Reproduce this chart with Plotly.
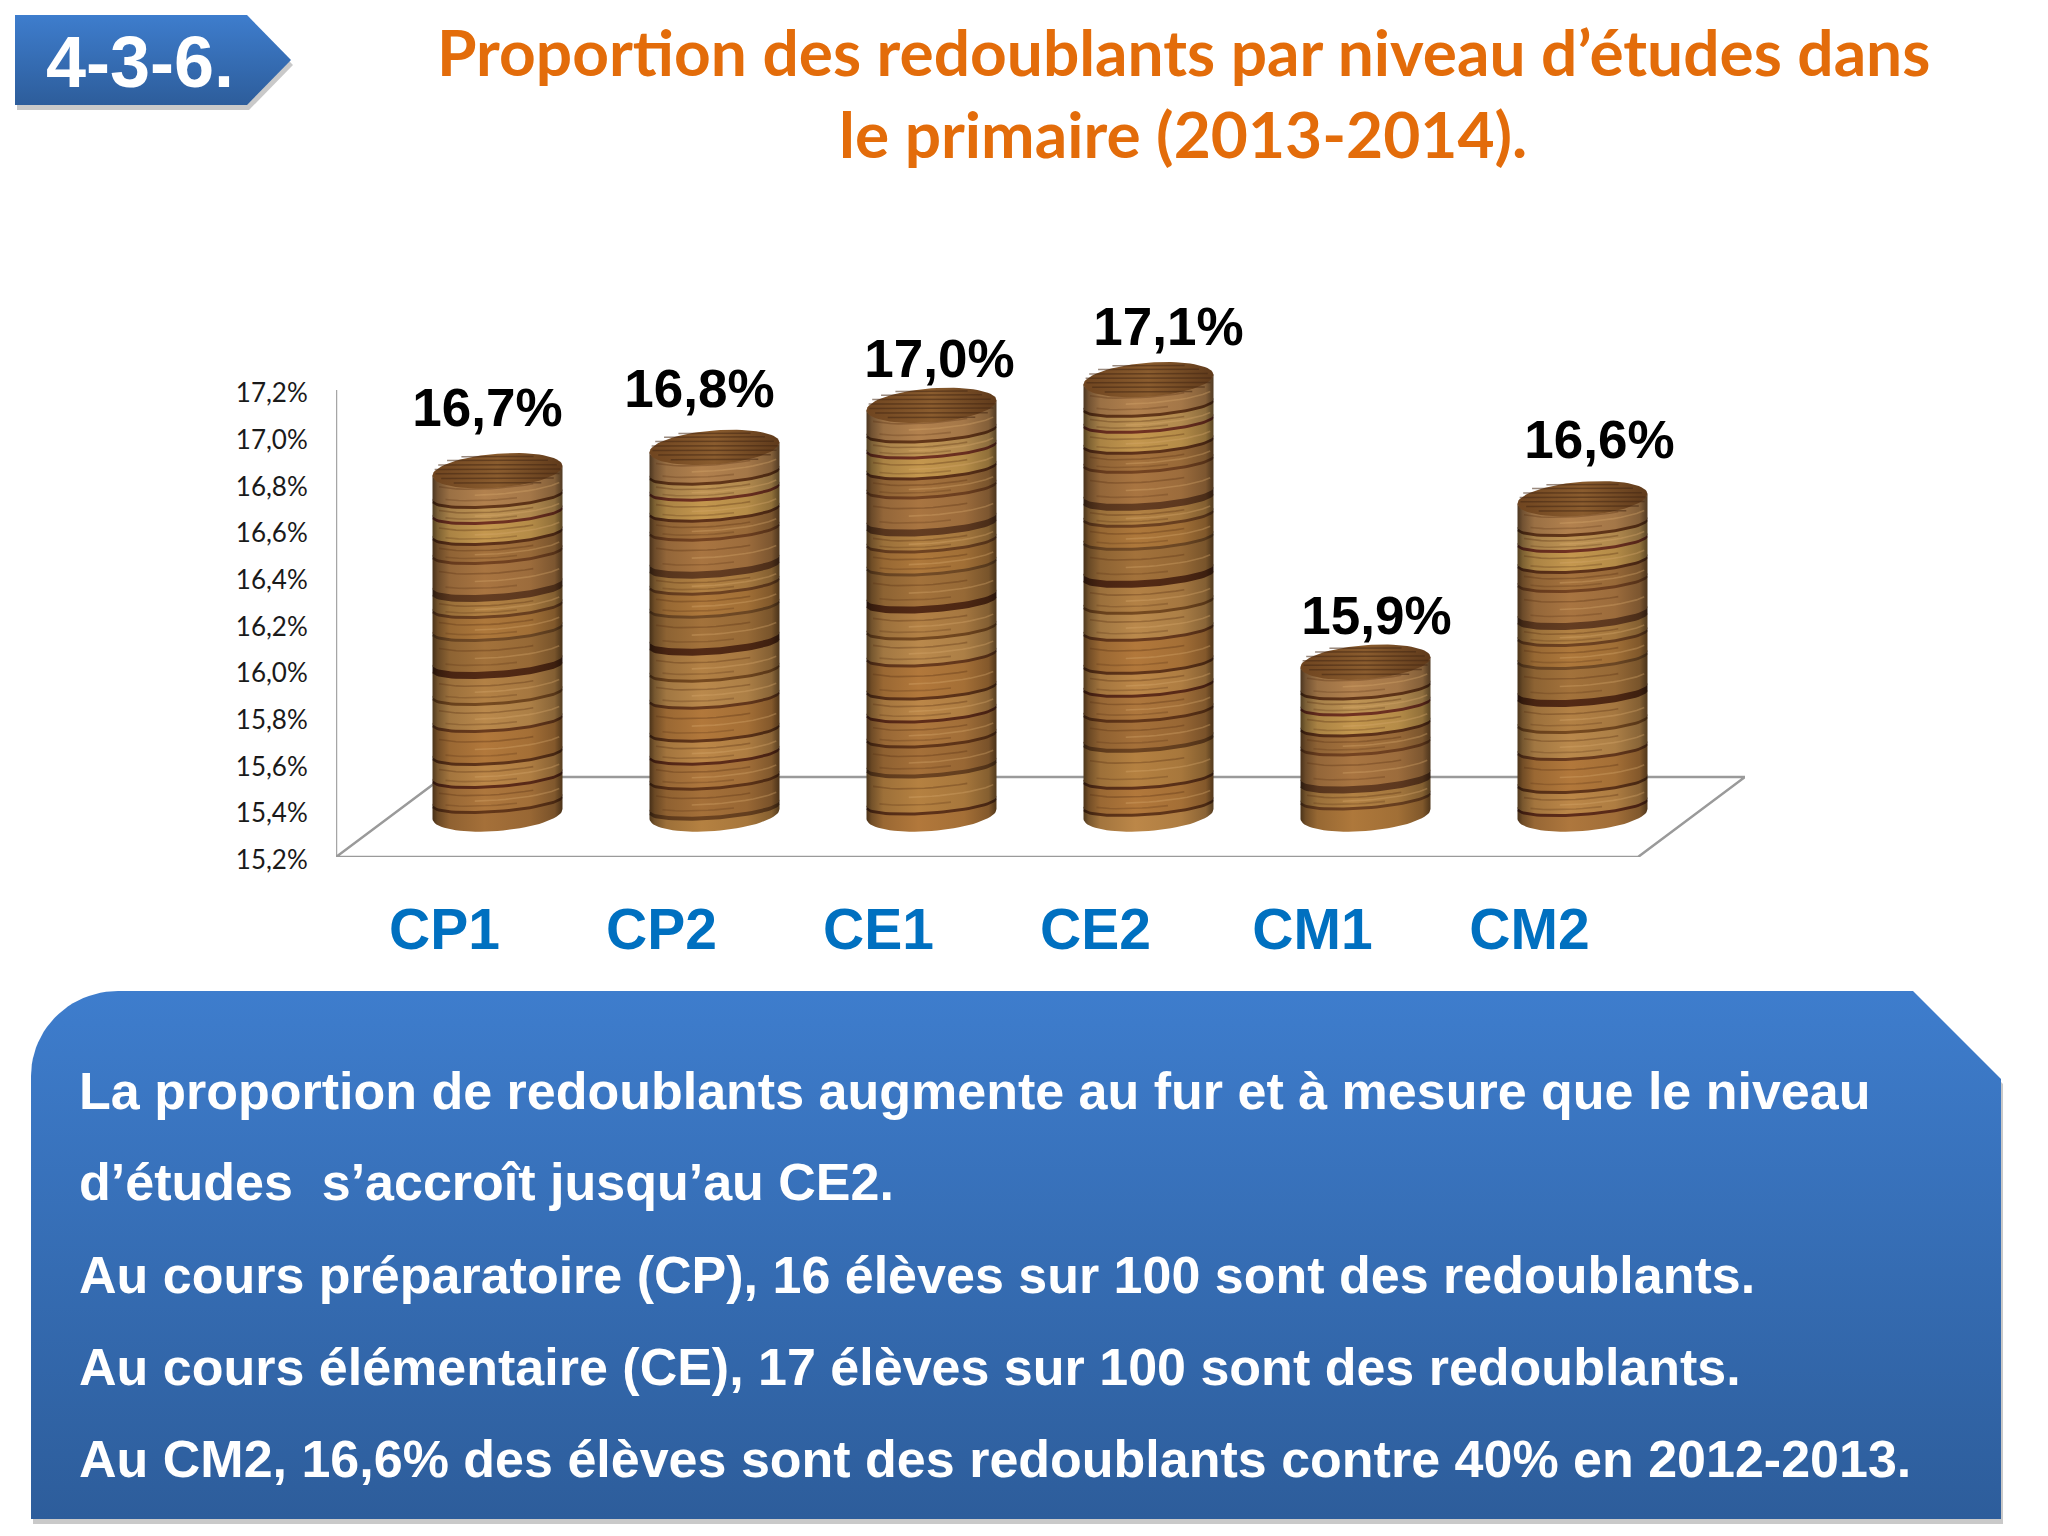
import plotly.graph_objects as go
import numpy as np

categories = ["CP1", "CP2", "CE1", "CE2", "CM1", "CM2"]
values = [16.7, 16.8, 16.98, 17.09, 15.88, 16.58]
y_ticks = [15.2, 15.4, 15.6, 15.8, 16.0, 16.2, 16.4, 16.6, 16.8, 17.0, 17.2]
title_lines = ["Proportion des redoublants par niveau d’études dans", "le primaire (2013-2014)."]
badge_text = "4-3-6."
panel_lines = [
    "La proportion de redoublants augmente au fur et à mesure que le niveau",
    "d’études  s’accroît jusqu’au CE2.",
    "Au cours préparatoire (CP), 16 élèves sur 100 sont des redoublants.",
    "Au cours élémentaire (CE), 17 élèves sur 100 sont des redoublants.",
    "Au CM2, 16,6% des élèves sont des redoublants contre 40% en 2012-2013.",
]

# layout constants (pixels of the 2048x1536 page)
W, H = 2048, 1536
PX_L, PX_R, PX_T, PX_B = 336, 1745, 200, 857
PX_PER_X = 217.0
PX_PER_Y = (857 - 390) / 2.0
Y0 = 15.2
Y1 = Y0 + (PX_B - PX_T) / PX_PER_Y
AXIS_TOP = 17.2
X0 = -0.5
X1 = X0 + (PX_R - PX_L) / PX_PER_X
DEPTH_X = 107 / PX_PER_X
DEPTH_Y = 80 / PX_PER_Y
CYL_DX = 53 / PX_PER_X
TOP_DY = 36 / PX_PER_Y
BASE_DY = 43 / PX_PER_Y
CYL_A = 65 / PX_PER_X
CYL_B = 17 / PX_PER_Y
TILT = 0.075 * PX_PER_X / PX_PER_Y
LABEL_NUDGE = [-10, -15, 8, 20, 11, 17]
LABEL_RAISE = [58, 54, 42, 48, 41, 54]

# decorative wood texture, from the top of a cylinder downwards: (thickness px, colour)
WOOD = [
    (24, "#a87a4a"), (3, "#5e3418"), (13, "#b58c50"), (3, "#6b2f20"), (18, "#b98f4a"), (3, "#5a3018"),
    (16, "#9c6c3a"), (3, "#6e4020"), (30, "#a06f3e"), (7, "#5f3a20"), (14, "#a87a40"), (3, "#6a4020"),
    (20, "#a57238"), (3, "#6e4824"), (30, "#9a6c38"), (7, "#4f2814"), (24, "#a97a42"), (3, "#70461f"),
    (24, "#b08248"), (3, "#64381c"), (30, "#a87238"), (3, "#5c3218"), (20, "#b28044"), (3, "#5a2a18"),
    (22, "#a5713a"), (3, "#5e3418"), (26, "#9c6a36"), (4, "#66401f"), (34, "#ab7a3e"), (3, "#5a3018"),
    (24, "#a87238"), (3, "#5e3418"), (30, "#b28044"),
]
# faint grain inside wide bands: (fraction of band, fraction of width start, end, colour)
GRAIN = [
    (0.3, -0.9, 0.55, "rgba(90,50,20,0.35)"),
    (0.55, -0.35, 0.95, "rgba(215,170,110,0.35)"),
    (0.78, -0.8, 0.3, "rgba(90,50,20,0.28)"),
]


def scale(hex_c, f):
    r, g, b = int(hex_c[1:3], 16), int(hex_c[3:5], 16), int(hex_c[5:7], 16)
    return "rgb(%d,%d,%d)" % (min(255, r * f), min(255, g * f), min(255, b * f))


def shaded(c):
    return [[0, scale(c, 0.45)], [0.04, scale(c, 0.68)], [0.13, scale(c, 0.92)], [0.4, scale(c, 1.06)],
            [0.75, scale(c, 0.98)], [0.94, scale(c, 0.78)], [1, scale(c, 0.48)]]


T = np.linspace(0, np.pi, 37)
XS_ARC = np.cos(T)
YS_ARC = np.sin(T)


def arc(cx, yc, sag=0.6):
    """front arc (right to left) at level yc; interior bands are flatter than the silhouette"""
    x = cx + CYL_A * XS_ARC
    y = yc - sag * CYL_B * YS_ARC + TILT * CYL_A * XS_ARC
    return x, y


fig = go.Figure()

AX = dict(xaxis="x2", yaxis="y2", mode="lines", hoverinfo="skip", showlegend=False)


def poly(xs, ys, colorscale=None, color=None):
    kw = dict(AX)
    kw.update(x=xs, y=ys, fill="toself", line=dict(width=0))
    if colorscale:
        kw["fillgradient"] = dict(type="vertical", colorscale=colorscale)
    else:
        kw["fillcolor"] = color
    fig.add_trace(go.Scatter(**kw))


# page decoration in pixel coordinates
blue_scale = [[0, "#2d5d9b"], [1, "#3e7dcd"]]
badge_x = [15, 247, 291, 247, 15, 15]
badge_y = [15, 15, 60, 105, 105, 15]
poly([x + 2 for x in badge_x], [y + 5 for y in badge_y], color="rgba(120,120,120,0.4)")
poly(badge_x, badge_y, colorscale=blue_scale)

t = np.linspace(np.pi, np.pi / 2, 24)
corner_x = list(118 + 87 * np.cos(t))
corner_y = list(1076 - 85 * np.sin(t))
panel_x = corner_x + [1913, 2001, 2001, 31, 31]
panel_y = corner_y + [991, 1079, 1519, 1519, 1076]
poly([x + 2 for x in panel_x], [y + 5 for y in panel_y], color="rgba(120,120,120,0.4)")
poly(panel_x, panel_y, colorscale=blue_scale)

# value axis line and floor of the 3-D chart, on the value axes
fig.add_trace(go.Scatter(x=[X0, X0], y=[Y0, AXIS_TOP], mode="lines", line=dict(color="#a6a6a6", width=2.5),
                         hoverinfo="skip", showlegend=False, cliponaxis=False))
floor_x = [X0, X0 + 6, X0 + 6 + DEPTH_X, X0 + DEPTH_X, X0]
floor_y = [Y0, Y0, Y0 + DEPTH_Y, Y0 + DEPTH_Y, Y0]
fig.add_trace(go.Scatter(x=floor_x, y=floor_y, mode="lines", line=dict(color="#9a9a9a", width=2.5),
                         hoverinfo="skip", showlegend=False, cliponaxis=False))

# cylinders
cyl_base = Y0 + BASE_DY
for i, v in enumerate(values):
    cx = i + CYL_DX
    top = v + TOP_DY
    edges, cols, thick = [top], [], []
    k = 0
    while edges[-1] > cyl_base:
        th, col = WOOD[k % len(WOOD)]
        k += 1
        edges.append(max(cyl_base, edges[-1] - th / PX_PER_Y))
        cols.append(col)
        thick.append(th)
    # paint from the base upwards, so upper bands sit on lower ones
    for j in range(len(cols) - 1, -1, -1):
        hi, lo = edges[j], edges[j + 1]
        xa, ya = arc(cx, lo, 1.0 if j == len(cols) - 1 else 0.6)
        xb, yb = arc(cx, hi + 1 / PX_PER_Y, 1.0 if j == 0 else 0.6)
        fig.add_trace(go.Scatter(
            x=list(xa) + list(xb[::-1]) + [xa[0]], y=list(ya) + list(yb[::-1]) + [ya[0]],
            mode="lines", fill="toself", line=dict(width=0), hoverinfo="skip", showlegend=False,
            fillgradient=dict(type="horizontal", colorscale=shaded(cols[j]))))
        if thick[j] >= 13 and j != len(cols) - 1:
            for frac, u0, u1, gcol in GRAIN:
                yl = hi - frac * (hi - lo)
                us = np.linspace(u0, u1, 12)
                gx = cx + CYL_A * us
                gy = yl - 0.6 * CYL_B * np.sqrt(1 - us * us) + TILT * CYL_A * us
                fig.add_trace(go.Scatter(x=gx, y=gy, mode="lines", line=dict(color=gcol, width=1.6),
                                         hoverinfo="skip", showlegend=False))
    # top cap
    tt = np.linspace(0, 2 * np.pi, 73)
    xc = cx + CYL_A * np.cos(tt)
    yc = top + CYL_B * np.sin(tt) + TILT * CYL_A * np.cos(tt)
    fig.add_trace(go.Scatter(x=xc, y=yc, mode="lines", fill="toself", line=dict(width=0),
                             hoverinfo="skip", showlegend=False,
                             fillgradient=dict(type="horizontal",
                                               colorscale=[[0, "#6f4520"], [0.5, "#8a5c2e"], [1, "#5f3a1b"]])))
    for f in (-0.72, -0.45, -0.18, 0.08, 0.34, 0.6, 0.82):
        half = CYL_A * np.sqrt(1 - f * f) * 0.97
        ym = top + CYL_B * f
        fig.add_trace(go.Scatter(x=[cx - half, cx + half], y=[ym, ym + TILT * 0.02], mode="lines",
                                 line=dict(color="rgba(70,40,20,0.55)", width=1.5),
                                 hoverinfo="skip", showlegend=False))

# value labels, tied to the values
label_text = [f"{v:.1f}".replace(".", ",") + "%" for v in values]
fig.add_trace(go.Scatter(
    x=[i + CYL_DX + LABEL_NUDGE[i] / PX_PER_X for i in range(len(values))],
    y=[v + TOP_DY + LABEL_RAISE[i] / PX_PER_Y for i, v in enumerate(values)],
    mode="text", text=label_text, textposition="middle center",
    textfont=dict(family="Liberation Sans", size=53, color="#000000", weight="bold"),
    hoverinfo="skip", showlegend=False, cliponaxis=False))

fig.update_layout(
    width=W, height=H, margin=dict(l=0, r=0, t=0, b=0, pad=0), autosize=False,
    paper_bgcolor="white", plot_bgcolor="rgba(0,0,0,0)",
    xaxis=dict(domain=[PX_L / W, PX_R / W], range=[X0, X1], tickmode="array", automargin=False,
               tickvals=list(range(len(categories))), ticktext=categories, showgrid=False,
               zeroline=False, showline=False, ticks="outside", ticklen=23, tickcolor="rgba(0,0,0,0)",
               tickfont=dict(family="Liberation Sans", size=57, color="#0070c0", weight="bold"), anchor="y"),
    yaxis=dict(domain=[1 - PX_B / H, 1 - PX_T / H], range=[Y0, Y1], tickmode="array", tickvals=y_ticks,
               automargin=False, ticklabelshift=3,
               ticktext=[f"{t:.1f}".replace(".", ",") + "%" for t in y_ticks], showgrid=False, zeroline=False,
               showline=False, ticks="outside", ticklen=22,
               tickcolor="rgba(0,0,0,0)", tickfont=dict(family="Lato", size=26, color="#1a1a1a"), anchor="x"),
    xaxis2=dict(domain=[0, 1], range=[0, W], visible=False, anchor="y2", automargin=False),
    yaxis2=dict(domain=[0, 1], range=[H, 0], visible=False, anchor="x2", automargin=False),
)


def note(text, x, y, family, size, color, xanchor="center", weight="bold"):
    fig.add_annotation(xref="x2", yref="y2", x=x, y=y, text=text, showarrow=False, xanchor=xanchor,
                       yanchor="middle", font=dict(family=family, size=size, color=color, weight=weight))


note(title_lines[0], 1183, 51, "Lato", 64, "#e36c0a")
note(title_lines[1], 1183, 133, "Lato", 64, "#e36c0a")
note(badge_text, 140, 62, "Liberation Sans", 72, "white", "center")
for line, y in zip(panel_lines, [1091, 1182, 1275, 1367, 1459]):
    note(line, 77, y, "Liberation Sans", 52, "white", "left")

fig.write_html("out.html", config={"displayModeBar": False},
               post_script="document.body.style.margin='0';")
